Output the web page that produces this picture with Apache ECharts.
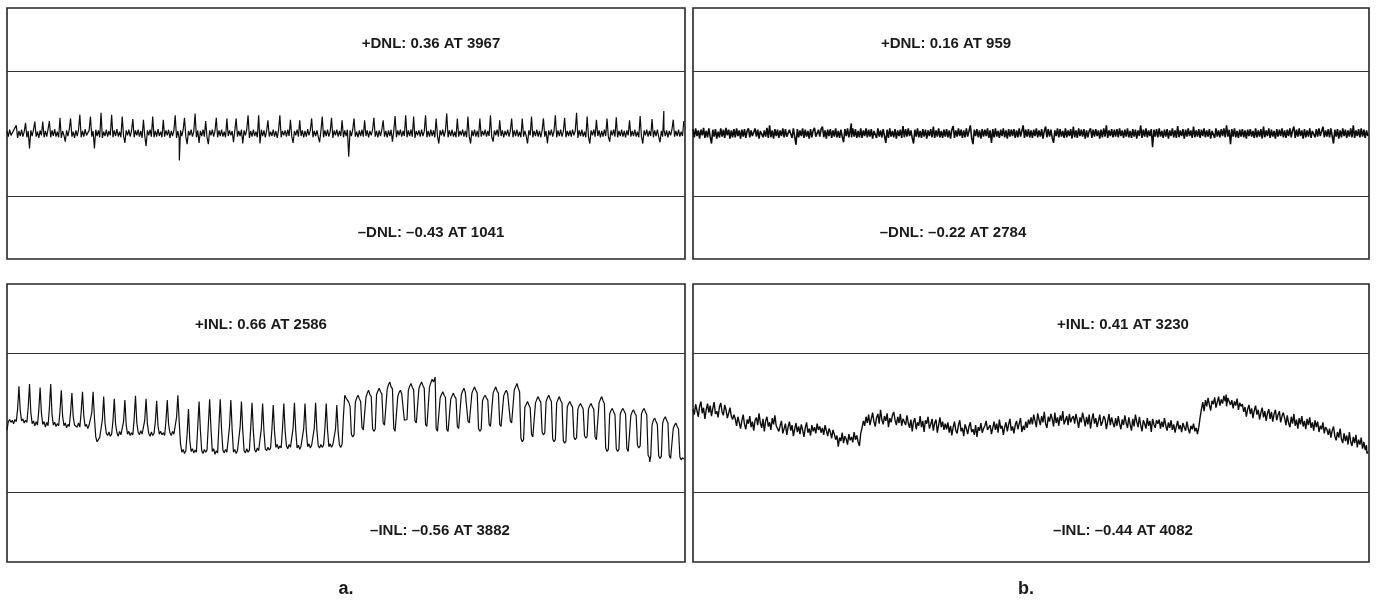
<!DOCTYPE html>
<html>
<head>
<meta charset="utf-8">
<title>DNL / INL</title>
<script src="https://cdn.jsdelivr.net/npm/echarts@6/dist/echarts.min.js"></script>
<style>
  html, body { margin: 0; padding: 0; background: #fff; }
  #chart { width: 1377px; height: 605px; }
</style>
</head>
<body>
<div id="chart"></div>
<script>
// Codes between two stored samples (12-bit converter, codes 0..4095)
const codeStep = 8;

// Differential nonlinearity, converter a, in 1/100 LSB (one value per 8 codes)
const dnlA = [
  4,-5,6,-3,-6,5,3,13,-7,4,-4,6,-5,3,17,-6,4,-24,5,-4,6,19,-5,3,-7,5,-3,19,-6,4,-5,7,
  20,-6,5,-4,7,-5,3,-6,25,-7,4,-3,-13,5,-4,6,24,-5,3,-7,5,-4,6,30,-6,4,-5,7,-3,-6,5,27,
  -5,4,-24,6,-4,5,-6,33,-7,3,-4,6,-5,4,-3,30,-6,5,-4,7,-5,3,-6,27,-4,-15,5,-3,6,-5,4,23,
  -6,5,-3,6,-5,4,-7,22,-4,-20,5,-3,6,-5,27,-6,4,-5,7,-4,3,-6,22,-5,5,-3,6,-7,4,-4,5,29,
  -7,4,-8,5,-4,6,25,-5,-17,4,-3,6,-5,3,32,-6,5,-15,4,-4,6,-5,20,-6,-17,5,-3,6,-5,4,25,-6,
  5,-4,6,-5,3,-6,24,-4,5,-3,4,-14,5,24,-5,4,-4,6,-16,5,-3,6,29,-7,4,-5,6,-4,3,-6,29,-16,
  6,-4,5,-6,4,21,-5,3,-4,6,-5,4,-7,5,29,-6,4,-3,5,-5,6,-4,22,-5,-15,4,-3,6,-5,21,-4,5,
  -6,4,-5,7,-3,5,24,-6,4,-4,5,-5,-14,4,27,-6,5,-4,6,-5,3,25,-7,5,-3,6,-5,4,-4,21,-6,5,
  -4,6,-37,5,-4,6,24,-5,3,-6,5,-4,6,-5,21,-4,5,-6,4,-3,6,25,-5,4,-6,5,-4,6,21,-5,4,-6,
  5,-4,6,-13,4,28,-6,5,-3,6,-5,4,-4,29,-6,5,-4,6,-5,27,-7,4,-3,5,-5,6,-4,3,29,-6,4,-5,
  6,-4,5,-6,24,-4,-16,5,-3,6,-5,4,32,-6,5,-4,6,-5,3,-6,24,-5,4,-3,6,-5,4,-6,27,-5,-16,5,
  -4,6,-5,4,-6,24,-5,4,-3,6,-5,4,-4,29,-6,-13,5,-3,6,-5,21,-4,5,-6,4,-3,6,-5,4,24,-6,5,
  -4,6,-5,3,-6,24,-5,4,-4,-16,5,-3,27,-6,4,-4,6,-5,4,-6,5,24,-5,4,-16,5,-3,6,-5,4,29,-6,
  5,-4,6,-5,3,25,-6,4,-4,5,-5,6,-3,4,33,-7,5,-4,6,-5,3,-6,27,-5,-16,5,-3,6,-5,22,-4,5,
  -6,4,-5,6,-4,24,-5,-13,5,-3,6,-5,26,-6,4,-4,6,-5,4,-6,5,-3,21,-5,4,-4,6,-5,3,-6,28,-5,
  -16,5,-3,6,-5,4,-4,23,-6,5,-4,6,-5,-14,4,-5,6,-4,5,-6,4,-3,6,22,-5,4,-4,6,-5,3,-4,20
];
// Extremes of dnlA: [code, LSB]
const dnlAMax = [3967, 0.36];
const dnlAMin = [1041, -0.43];

// Differential nonlinearity, converter b, in 1/100 LSB
const dnlB = [
  7,-6,8,-4,5,-8,6,-3,9,-7,4,-6,8,-5,-16,6,-5,7,-8,3,-6,8,-5,6,-7,9,-3,6,-8,5,-6,7,
  -6,8,-4,5,-8,6,-5,7,-7,4,8,-6,5,-4,-7,8,-5,6,-8,4,7,-6,5,-5,9,-7,13,-6,5,-8,7,-4,
  6,-7,5,-4,8,-6,7,-5,-8,6,4,-7,8,-5,-18,7,-6,5,-4,8,-7,6,-5,4,-8,7,-6,5,9,-5,-7,6,
  -5,7,11,-6,5,-8,6,-4,7,-7,5,-5,8,-6,4,-7,6,-5,-14,7,-4,8,-6,5,-6,8,-5,7,-7,4,-6,8,
  -7,5,-4,8,-6,6,-5,7,-8,4,6,-7,8,-5,5,-6,7,-4,-15,6,-7,8,-5,4,-6,7,-8,5,-4,6,-7,12,
  -6,7,-5,8,-4,5,-7,-16,6,-5,8,-6,4,-7,7,-5,6,-8,5,-4,7,-6,11,-7,5,-5,8,-6,4,-7,6,-5,
  7,-6,5,-8,6,12,-7,5,-5,8,-4,6,-7,5,-6,8,-5,4,13,-7,-17,6,-4,7,-6,5,-8,7,-5,6,-4,8,
  -7,5,-15,7,-6,8,-5,4,-7,6,-4,8,-6,5,-8,7,-5,6,-4,7,-7,5,-6,8,-5,4,13,-7,6,-5,7,-6,
  5,-7,6,-4,8,-6,5,-5,7,-8,4,11,-6,7,-5,6,-7,-15,5,-4,8,-6,7,-5,4,-7,8,-6,5,-4,7,-8,
  11,-6,5,-7,8,-4,6,-5,7,-8,5,-6,4,8,-7,6,-5,7,-4,5,-8,6,-6,8,-5,13,-7,5,-4,7,-6,6,
  -5,7,-6,8,-4,5,-7,6,-5,8,-6,4,-7,7,-5,6,-8,5,-4,13,-7,6,-5,8,-6,5,-4,7,-22,6,-5,7,
  -6,8,-5,4,-7,6,-5,7,-8,5,-4,8,-6,5,-7,12,-6,5,-4,7,-8,6,-5,8,-4,5,-7,11,-6,5,-5,7,
  -7,6,-4,8,-6,5,-5,7,-8,4,6,-7,8,-5,5,-6,7,-4,8,-6,13,-5,6,-17,7,-5,8,-6,4,-7,6,-5,
  7,-6,5,-8,6,-4,7,-5,4,-7,8,-6,5,-5,7,-8,11,-6,5,-4,8,-7,6,-5,4,-8,7,-5,6,-4,8,-6,
  5,-7,6,-4,8,-6,5,11,-7,6,-5,8,-4,5,-8,7,-6,5,-5,8,-7,4,6,-6,7,-5,8,-4,-7,11,-6,5,
  -5,7,-6,8,-4,-16,6,-5,7,-8,5,-6,8,-4,6,-7,5,-5,8,-6,13,-7,5,-4,7,-6,8,-5,6,-7,5,-4
];
const dnlBMax = [959, 0.16];
const dnlBMin = [2784, -0.22];

// Integral nonlinearity, converter a, in 1/100 LSB
const inlA = [
  -10,2,5,1,4,-1,5,2, 20,53,18,3,6,0,4,1, 22,56,15,-1,3,-4,2,-3, 18,51,14,-2,2,-6,1,-4,
  21,56,12,-3,1,-5,-1,-4, 17,47,10,-4,0,-7,-2,-5, 15,43,9,-3,-1,-6,0,-6, 16,45,10,-5,-2,-8,-3,-5,
  15,45,8,-20,-27,-24,-21,-19, 5,38,0,-15,-18,-13,-19,-16, 3,35,-2,-14,-19,-12,-17,-15, 2,33,-3,-16,-12,-18,-14,-17,
  6,39,1,-13,-17,-11,-16,-14, 4,35,-1,-15,-19,-13,-18,-15, 2,32,-4,-16,-12,-17,-14,-18, 3,33,-2,-14,-18,-12,-16,-15,
  8,40,2,-30,-42,-38,-44,-40, -15,20,-25,-41,-37,-43,-39,-42, -5,31,-10,-40,-44,-38,-42,-39, -3,34,-8,-41,-37,-45,-40,-43,
  -4,34,-9,-39,-43,-38,-42,-40, -5,33,-10,-42,-38,-44,-40,-41, -6,31,-11,-40,-43,-37,-42,-39, -7,29,-12,-38,-42,-36,-40,-38,
  -8,28,-12,-37,-40,-35,-39,-36, -9,26,-13,-35,-31,-37,-33,-36, -8,28,-12,-33,-37,-31,-35,-34, -7,29,-11,-36,-32,-38,-33,-35,
  -8,28,-12,-34,-30,-36,-32,-34, -7,29,-11,-33,-36,-31,-35,-32, -8,28,-10,-34,-30,-35,-31,-33, -9,26,-12,-32,-35,-30,10,40,
  36,33,30,24,-16,-20,-17,30, 36,40,35,31,-6,-10,-8,37, 43,47,41,38,-8,-12,-9,41, 46,50,45,42,0,-3,-1,48,
  55,59,52,49,-8,-12,-10,38, 44,47,42,40,4,2,5,47, 53,57,51,48,3,0,2,50, 55,59,54,50,-2,-5,-3,52,
  58,63,59,61,-8,-12,-10,36, 41,45,40,37,-9,-12,-10,34, 39,43,38,35,-5,-8,-6,41, 46,50,44,42,3,0,2,43,
  48,52,47,43,-8,-12,-9,32, 37,40,36,33,-2,-5,-3,43, 48,52,46,43,-2,-5,-3,39, 44,47,42,40,3,0,2,48,
  52,57,50,45,-22,-27,-24,23, 27,31,26,22,-16,-20,-18,29, 34,38,33,30,-13,-17,-14,31, 36,40,35,31,-23,-27,-24,29,
  34,38,32,29,-25,-29,-26,23, 28,31,26,23,-20,-24,-21,20, 25,28,24,20,-18,-22,-19,20, 25,28,23,20,-20,-24,-22,29,
  34,38,32,28,-36,-41,-38,13, 18,21,16,12,-37,-41,-38,13, 18,21,17,13,-37,-41,-39,11, 16,19,14,11,-32,-36,-33,13,
  18,21,16,12,-46,-50,-48,-3, 4,7,2,-2,-47,-51,-48,0, 6,9,4,0,-47,-51,-49,-8, -3,0,-5,-9,-49,-53,-50,-52
];
const inlAMax = [2586, 0.66];
const inlAMin = [3882, -0.56];

// Integral nonlinearity, converter b, in 1/100 LSB
const inlB = [
  20,12,27,18,9,24,31,14,22,6,19,28,15,25,10,21,30,13,17,8,23,29,16,11,26,19,7,14,22,10,5,12,
  6,-4,9,1,-8,3,12,-2,-9,5,-1,10,-6,2,-11,4,8,-3,14,0,-7,6,-12,3,9,-5,1,-10,7,-2,11,-4,
  -2,-12,-4,3,-15,-8,-1,-17,-6,2,-11,-3,-19,-9,0,-13,-5,-16,-2,-10,-20,-7,1,-14,-8,-18,-3,-12,-6,-15,-1,-10,
  -5,-14,-7,-17,-3,-11,-19,-8,-13,-22,-10,-16,-24,-18,-34,-21,-26,-14,-29,-19,-23,-31,-16,-25,-20,-28,-13,-24,-18,-27,-33,-15,
  -7,3,-4,9,0,12,-3,6,15,2,-5,8,13,-1,19,5,-2,10,3,14,-6,7,1,11,16,4,-3,9,0,13,-4,6,
  8,-3,11,0,-7,5,-12,2,7,-9,1,-4,10,-6,3,-13,4,-1,9,-8,-2,6,-11,0,5,-14,-3,8,-6,2,-10,-1,
  -9,1,-14,-4,-18,-6,2,-11,-15,-3,4,-12,-7,-19,-2,-8,-16,-5,1,-13,-9,-17,-3,-20,-6,-11,0,-14,-8,-4,3,-10,
  -12,-3,-16,-7,2,-10,-1,-14,5,-8,-4,-17,-6,1,-12,-2,6,-11,-5,-15,-3,3,-9,-1,7,-13,-4,-10,2,-7,5,-2,
  8,-2,12,3,-6,14,5,-3,10,1,16,-1,-7,9,2,13,6,-5,15,0,8,-4,11,3,17,-2,4,10,-3,13,1,7,
  10,-1,13,4,-7,8,1,15,6,-5,9,-2,12,-8,5,14,-1,7,-6,3,12,-4,1,10,6,-9,2,13,-3,8,0,-6,
  7,-4,10,-1,-9,5,-3,11,0,-7,8,-2,-11,6,-5,12,2,-6,9,-3,-12,4,-1,-8,7,-4,3,-13,6,-2,-7,4,
  -1,5,-8,2,-6,7,-4,-11,1,-7,4,-10,-2,-14,-5,3,-9,-3,-13,0,-6,-11,2,-8,-15,-4,-9,-1,-12,-7,-16,-6,
  8,20,30,17,33,24,36,26,18,32,27,37,22,30,38,25,34,28,39,31,24,36,38,26,33,21,31,25,35,19,29,24,
  27,16,23,9,20,26,13,21,7,18,25,12,19,5,15,22,8,17,3,14,20,6,16,2,13,19,4,12,17,1,10,15,
  7,-3,11,0,-6,9,-1,13,-4,5,-8,7,-2,10,-5,3,-9,6,-3,8,-7,1,-11,4,-6,2,-13,-4,-9,1,-15,-6,
  -9,-17,-8,-21,-11,-5,-19,-25,-13,-21,-8,-23,-29,-15,-26,-18,-31,-13,-27,-33,-20,-29,-17,-35,-24,-31,-21,-37,-27,-39,-32,-41
];
const inlBMax = [3230, 0.41];
const inlBMin = [4082, -0.44];

// Vertical scale of every plot, in LSB; reference lines at +/-1 LSB
const yRange = [-2, 2];
const codeRange = [0, 4095];

// Samples -> [code, LSB] pairs, with the reported extremes placed at their own codes
function toPoints(values, extremes) {
  const taken = new Set(extremes.map(e => e[0]));
  const pts = [];
  values.forEach((v, i) => {
    const code = i * codeStep;
    if (!taken.has(code)) pts.push([code, v / 100]);
  });
  extremes.forEach(e => pts.push([e[0], e[1]]));
  pts.sort((a, b) => a[0] - b[0]);
  return pts;
}

const dash = '\u2013';
const fmt = v => (v < 0 ? dash + Math.abs(v).toFixed(2) : v.toFixed(2));
const maxText = (name, e) => '+' + name + ': ' + fmt(e[1]) + ' AT ' + e[0];
const minText = (name, e) => dash + name + ': ' + fmt(e[1]) + ' AT ' + e[0];

const panels = [
  { grid: { left: 7,   top: 8,   width: 678, height: 251 }, values: dnlA, max: dnlAMax, min: dnlAMin, name: 'DNL',
    maxPos: [431, 44], minPos: [431, 233], stroke: 1.2 },
  { grid: { left: 693, top: 8,   width: 676, height: 251 }, values: dnlB, max: dnlBMax, min: dnlBMin, name: 'DNL',
    maxPos: [946, 44], minPos: [953, 233], stroke: 1.6 },
  { grid: { left: 7,   top: 284, width: 678, height: 278 }, values: inlA, max: inlAMax, min: inlAMin, name: 'INL',
    maxPos: [261, 325], minPos: [440, 531], stroke: 1.2 },
  { grid: { left: 693, top: 284, width: 676, height: 278 }, values: inlB, max: inlBMax, min: inlBMin, name: 'INL',
    maxPos: [1123, 325], minPos: [1123, 531], stroke: 1.4 }
];

const labelFont = 'bold 15px "Liberation Sans", Arial, sans-serif';
const textEl = (text, pos, font) => ({
  type: 'text', x: pos[0], y: pos[1], silent: true,
  style: { text: text, font: font, fill: '#1a1a1a', textAlign: 'center', textVerticalAlign: 'middle' }
});

const graphics = [];
panels.forEach(p => {
  graphics.push(textEl(maxText(p.name, p.max), p.maxPos, labelFont));
  graphics.push(textEl(minText(p.name, p.min), p.minPos, labelFont));
});
const captionFont = 'bold 18px "Liberation Sans", Arial, sans-serif';
graphics.push(textEl('a.', [346, 589], captionFont));
graphics.push(textEl('b.', [1026, 589], captionFont));

const option = {
  animation: false,
  backgroundColor: '#ffffff',
  grid: panels.map(p => Object.assign({
    show: true, borderColor: '#262626', borderWidth: 1.6, backgroundColor: 'transparent'
  }, p.grid)),
  xAxis: panels.map((p, i) => ({
    type: 'value', gridIndex: i, min: codeRange[0], max: codeRange[1],
    axisLine: { show: false }, axisTick: { show: false }, axisLabel: { show: false }, splitLine: { show: false }
  })),
  yAxis: panels.map((p, i) => ({
    type: 'value', gridIndex: i, min: yRange[0], max: yRange[1], interval: 1,
    axisLine: { show: false }, axisTick: { show: false }, axisLabel: { show: false },
    splitLine: { show: true, lineStyle: { width: 1.2, color: ['transparent', '#333333', 'transparent', '#333333', 'transparent'] } }
  })),
  series: panels.map((p, i) => ({
    type: 'line', xAxisIndex: i, yAxisIndex: i,
    data: toPoints(p.values, [p.max, p.min]),
    showSymbol: false, symbol: 'none', sampling: null,
    lineStyle: { width: p.stroke, color: '#0d0d0d' },
    emphasis: { disabled: true }, silent: true
  })),
  graphic: graphics
};

const chart = echarts.init(document.getElementById('chart'), null, { renderer: 'canvas' });
chart.setOption(option);
</script>
</body>
</html>
